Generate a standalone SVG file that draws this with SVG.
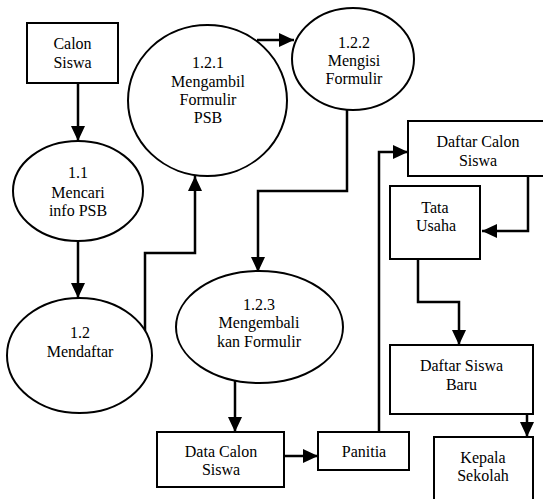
<svg xmlns="http://www.w3.org/2000/svg" width="543" height="499" viewBox="0 0 543 499">
<style>
.s{fill:#fff;stroke:#000;stroke-width:2}
text{font-family:'Liberation Serif','DejaVu Serif','Times New Roman',serif;font-size:16px;fill:#000;text-anchor:middle}
.c{fill:none;stroke:#000;stroke-width:2.5;marker-end:url(#a)}
</style>
<defs>
<marker id="a" viewBox="0 0 15 14" refX="15" refY="7" markerWidth="15" markerHeight="14" markerUnits="userSpaceOnUse" orient="auto">
<path d="M0,0 L15,7 L0,14 z" fill="#000"/>
</marker>
</defs>
<rect width="543" height="499" fill="#fff"/>
<g id="connectors">
<path class="c" d="M78,83 V141"/>
<path class="c" d="M78,242 V298"/>
<path class="c" d="M145,331 V253 H195 V176"/>
<path class="c" d="M257,40 H294"/>
<path class="c" d="M347,110 V191 H258 V272"/>
<path class="c" d="M235,381 V432"/>
<path class="c" d="M284,456 H318"/>
<path class="c" d="M379,432 V152 H408"/>
<path class="c" d="M528,176 V231 H482"/>
<path class="c" d="M418,259 V302 H459 V345"/>
<path class="c" d="M527,414 V437"/>
</g>
<g id="calon-siswa">
<rect class="s" x="27" y="23" width="91" height="60"/>
<text x="72.5" y="49">Calon</text>
<text x="72.5" y="68">Siswa</text>
</g>
<g id="p1-1">
<ellipse class="s" cx="78" cy="191" rx="65" ry="50"/>
<text x="78" y="178">1.1</text>
<text x="78" y="198">Mencari</text>
<text x="78" y="216">info PSB</text>
</g>
<g id="p1-2-1">
<ellipse class="s" cx="207.5" cy="100.5" rx="79.5" ry="75.5"/>
<text x="208" y="68">1.2.1</text>
<text x="208" y="87">Mengambil</text>
<text x="208" y="105">Formulir</text>
<text x="208" y="123">PSB</text>
</g>
<g id="p1-2-2">
<ellipse class="s" cx="353" cy="59" rx="61" ry="51"/>
<text x="354" y="48">1.2.2</text>
<text x="354" y="66">Mengisi</text>
<text x="354" y="84">Formulir</text>
</g>
<g id="p1-2-3">
<ellipse class="s" cx="259.5" cy="327" rx="83.5" ry="56"/>
<text x="259" y="310">1.2.3</text>
<text x="259" y="328">Mengembali</text>
<text x="259" y="347">kan Formulir</text>
</g>
<g id="p1-2">
<ellipse class="s" cx="79.5" cy="355.5" rx="72.5" ry="57.5"/>
<text x="80" y="338">1.2</text>
<text x="80" y="357">Mendaftar</text>
</g>
<g id="data-calon-siswa">
<rect class="s" x="157" y="432" width="127" height="55"/>
<text x="221" y="457">Data Calon</text>
<text x="221" y="475">Siswa</text>
</g>
<g id="panitia">
<rect class="s" x="318" y="432" width="91" height="38"/>
<text x="364" y="457">Panitia</text>
</g>
<g id="daftar-calon-siswa">
<rect class="s" x="408" y="121" width="150" height="55"/>
<text x="478" y="147">Daftar Calon</text>
<text x="478" y="166">Siswa</text>
</g>
<g id="tata-usaha">
<rect class="s" x="390" y="186" width="90" height="73"/>
<text x="435" y="213">Tata</text>
<text x="436" y="231">Usaha</text>
</g>
<g id="daftar-siswa-baru">
<rect class="s" x="390" y="345" width="143" height="69"/>
<text x="461.5" y="371">Daftar Siswa</text>
<text x="461.5" y="390">Baru</text>
</g>
<g id="kepala-sekolah">
<rect class="s" x="434" y="437" width="99" height="80"/>
<text x="483" y="463">Kepala</text>
<text x="483" y="481">Sekolah</text>
</g>
</svg>
